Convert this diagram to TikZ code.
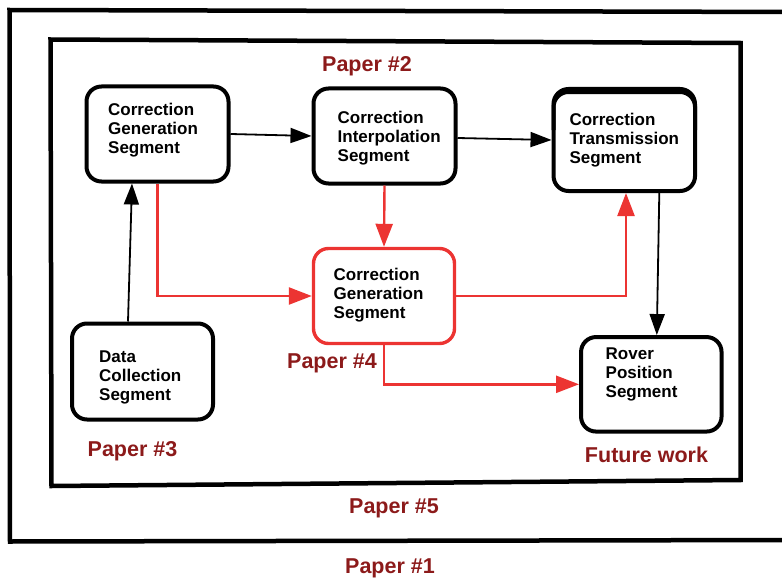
\documentclass[tikz,border=0pt]{standalone}
\usepackage{fontspec}
\setmainfont{Liberation Sans}
\usetikzlibrary{arrows.meta,calc}
\definecolor{paperred}{RGB}{140,26,26}
\definecolor{linkred}{RGB}{236,52,50}
\begin{document}
\begin{tikzpicture}[x=1pt,y=-1pt,
  seg/.style={draw=black, line width=4pt, rounded corners=15pt, inner sep=0pt},
  segred/.style={seg, draw=linkred, line width=3.4pt},
  segtext/.style={align=left, inner sep=0pt, anchor=west,
    font=\fontsize{17}{19}\selectfont\bfseries},
  paper/.style={text=paperred, inner sep=0pt, anchor=base,
    font=\fontsize{21.5}{24}\selectfont\bfseries},
  frame/.style={draw=black, line width=4.5pt, line join=miter},
  blk/.style={draw=black, line width=1.8pt, -{Triangle[length=21pt,width=15pt]}},
  rd/.style={draw=linkred, line width=2.4pt, -{Triangle[length=23pt,width=17pt]}}]

\useasboundingbox (0,0) rectangle (782,578);
\clip (0,0) rectangle (782,578);

% outer and inner frames
\draw[frame] (800,12) -- (9.5,10) -- (10,541.5) -- (800,540);
\draw[frame] (50.5,39.5) -- (740.5,43) -- (740.5,480) -- (51.5,486) -- cycle;

% segment boxes
\node[seg, minimum width=142pt, minimum height=95pt] (cgs) at (157.5,134) {};
\node[seg, minimum width=142pt, minimum height=95pt] (cis) at (384.5,136) {};
\node[seg, minimum width=141.5pt, minimum height=99pt] (cts) at (624.3,141.5) {};
\node[segred, minimum width=141pt, minimum height=95pt] (red) at (384,296) {};
\node[seg, minimum width=141pt, minimum height=96pt] (dcs) at (142.5,371.5) {};
\node[seg, minimum width=140.5pt, minimum height=94.5pt] (rps) at (651.3,384.3) {};

% doubled top edge of the transmission box
\draw[line width=4pt, rounded corners=15pt] (553.5,130) |- (695,89) -- (695,130);

% box texts
\node[segtext] (cgs-t) at (108,130.6) {Correction\\Generation\\Segment};
\node[segtext] (cis-t) at (337.5,138.6) {Correction\\Interpolation\\Segment};
\node[segtext] (cts-t) at (569.3,140.6) {Correction\\Transmission\\Segment};
\node[segtext] (red-t) at (333.5,295.6) {Correction\\Generation\\Segment};
\node[segtext] (dcs-t) at (99,377.6) {Data\\Collection\\Segment};
\node[segtext] (rps-t) at (605.5,374.6) {Rover\\Position\\Segment};

% paper labels
\node[paper] (p2) at (367,72) {Paper \#2};
\node[paper] (p4) at (332,368) {Paper \#4};
\node[paper] (p3) at (132.5,456) {Paper \#3};
\node[paper] (fw) at (646.5,462) {Future work};
\node[paper] (p5) at (394,513) {Paper \#5};
\node[paper] (p1) at (390,573) {Paper \#1};

% black connectors
\draw[blk] (cgs.east) -- (cis.west);
\draw[blk] ([yshift=-2pt]cis.east) -- ([yshift=1.5pt]cts.west);
\draw[blk] ([xshift=-14.5pt]dcs.north) -- ([xshift=-25.5pt]cgs.south);
\draw[blk] ([xshift=35pt]cts.south) -- ([xshift=5.5pt]rps.north);

% red connectors
\draw[rd] (cis.south) -- (red.north);
\draw[rd] (cgs.south) |- (red.west);
\draw[rd] (red.east) -| ([xshift=1.7pt]cts.south);
\draw[rd] (red.south) |- (rps.west);
\end{tikzpicture}
\end{document}
